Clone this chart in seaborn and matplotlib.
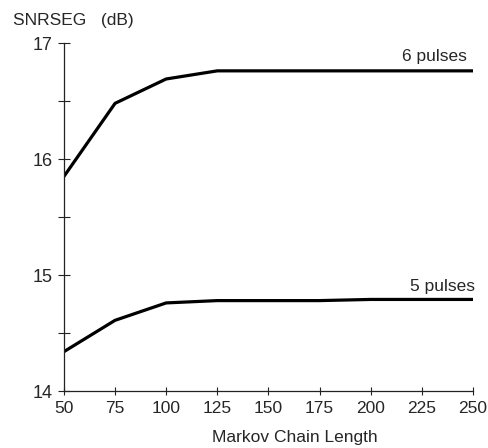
import numpy as np
import pandas as pd
import seaborn as sns
import matplotlib.pyplot as plt
from matplotlib.ticker import MultipleLocator

chain_length = [50, 75, 100, 125, 150, 175, 200, 225, 250]
snr_6_pulses = [15.85, 16.48, 16.69, 16.76, 16.76, 16.76, 16.76, 16.76, 16.76]
snr_5_pulses = [14.34, 14.61, 14.76, 14.78, 14.78, 14.78, 14.79, 14.79, 14.79]
series_names = ["6 pulses", "5 pulses"]

sns.set_style("ticks")
plt.rcParams['font.family'] = ['Liberation Sans', 'DejaVu Sans']

data = pd.DataFrame({
    "length": chain_length * 2,
    "snr": snr_6_pulses + snr_5_pulses,
    "series": [series_names[0]] * len(chain_length) + [series_names[1]] * len(chain_length),
})

fig = plt.figure(figsize=(4.88, 4.48), dpi=100)
ax = fig.add_axes([0.131, 0.127, 0.838, 0.777])
sns.lineplot(x="length", y="snr", hue="series", data=data, ax=ax,
             palette=["black", "black"], linewidth=2.3, legend=False)

ax.set_xlim(50, 250)
ax.set_ylim(14, 17)
ax.set_xticks(chain_length)
ax.set_yticks([14, 15, 16, 17])
ax.yaxis.set_minor_locator(MultipleLocator(0.5))
ax.tick_params(axis='both', which='both', direction='inout', width=0.8, color='#222222')
ax.tick_params(axis='y', which='both', length=8, labelsize=13, pad=4)
ax.tick_params(axis='x', which='major', length=6, labelsize=12.5, pad=4)
for side in ['top', 'right']:
    ax.spines[side].set_visible(False)
for side in ['left', 'bottom']:
    ax.spines[side].set_linewidth(0.9)
    ax.spines[side].set_color('#222222')

ax.set_xlabel("")
ax.set_ylabel("")
fig.text(0.605, 0.024, "Markov Chain Length", fontsize=12.5, ha='center', va='center')
fig.text(0.027, 0.955, "SNRSEG   (dB)", fontsize=12.5, ha='left', va='center')

ax.text(247, snr_6_pulses[-1] + 0.06, series_names[0], fontsize=12.5, ha='right', va='bottom')
ax.text(251, snr_5_pulses[-1] + 0.05, series_names[1], fontsize=12.5, ha='right', va='bottom')

fig.savefig("out.png", dpi=100)
